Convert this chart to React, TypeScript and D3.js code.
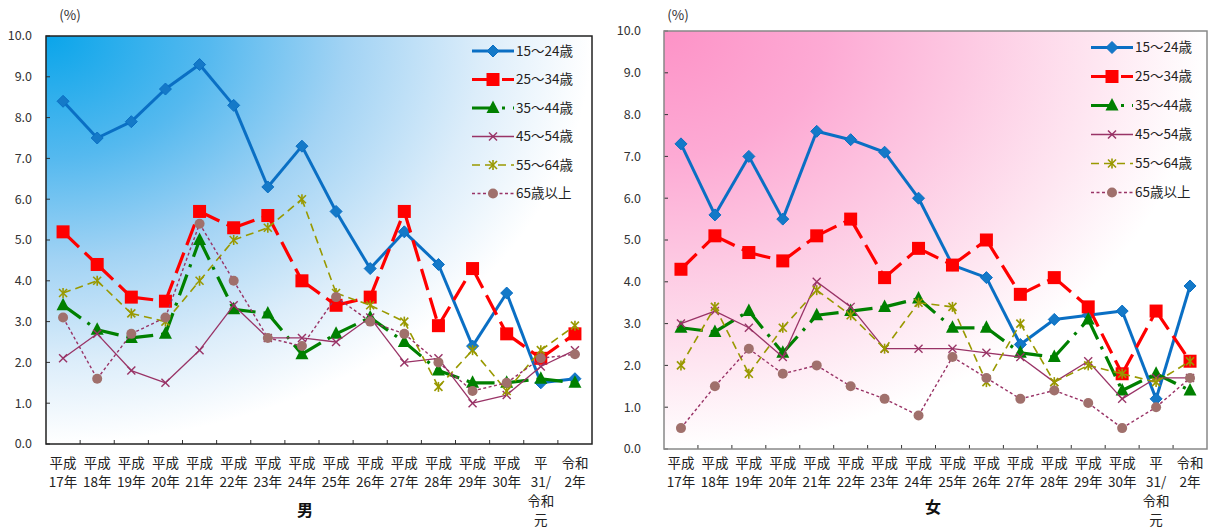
import React from "react";
import * as d3 from "d3";

const categories = [
  "平成17年", "平成18年", "平成19年", "平成20年", "平成21年", "平成22年", "平成23年", "平成24年",
  "平成25年", "平成26年", "平成27年", "平成28年", "平成29年", "平成30年", "平31/令和元", "令和2年",
];
const xLabelLines = [
  ["平成", "17年"], ["平成", "18年"], ["平成", "19年"], ["平成", "20年"], ["平成", "21年"],
  ["平成", "22年"], ["平成", "23年"], ["平成", "24年"], ["平成", "25年"], ["平成", "26年"],
  ["平成", "27年"], ["平成", "28年"], ["平成", "29年"], ["平成", "30年"], ["平", "31/", "令和", "元"],
  ["令和", "2年"],
];
const seriesNames = ["15～24歳", "25～34歳", "35～44歳", "45～54歳", "55～64歳", "65歳以上"];
const yTicks = [0, 1, 2, 3, 4, 5, 6, 7, 8, 9, 10];

// 男
const male15_24 = [8.4, 7.5, 7.9, 8.7, 9.3, 8.3, 6.3, 7.3, 5.7, 4.3, 5.2, 4.4, 2.4, 3.7, 1.5, 1.6];
const male25_34 = [5.2, 4.4, 3.6, 3.5, 5.7, 5.3, 5.6, 4.0, 3.4, 3.6, 5.7, 2.9, 4.3, 2.7, 2.1, 2.7];
const male35_44 = [3.4, 2.8, 2.6, 2.7, 5.0, 3.3, 3.2, 2.2, 2.7, 3.1, 2.5, 1.8, 1.5, 1.5, 1.6, 1.5];
const male45_54 = [2.1, 2.7, 1.8, 1.5, 2.3, 3.4, 2.6, 2.6, 2.5, 3.1, 2.0, 2.1, 1.0, 1.2, 1.9, 2.3];
const male55_64 = [3.7, 4.0, 3.2, 3.0, 4.0, 5.0, 5.3, 6.0, 3.7, 3.4, 3.0, 1.4, 2.3, 1.3, 2.3, 2.9];
const male65 = [3.1, 1.6, 2.7, 3.1, 5.4, 4.0, 2.6, 2.4, 3.6, 3.0, 2.7, 2.0, 1.3, 1.5, 2.1, 2.2];

// 女
const female15_24 = [7.3, 5.6, 7.0, 5.5, 7.6, 7.4, 7.1, 6.0, 4.4, 4.1, 2.5, 3.1, 3.2, 3.3, 1.2, 3.9];
const female25_34 = [4.3, 5.1, 4.7, 4.5, 5.1, 5.5, 4.1, 4.8, 4.4, 5.0, 3.7, 4.1, 3.4, 1.8, 3.3, 2.1];
const female35_44 = [2.9, 2.8, 3.3, 2.3, 3.2, 3.3, 3.4, 3.6, 2.9, 2.9, 2.3, 2.2, 3.1, 1.4, 1.8, 1.4];
const female45_54 = [3.0, 3.3, 2.9, 2.2, 4.0, 3.4, 2.4, 2.4, 2.4, 2.3, 2.2, 1.6, 2.1, 1.2, 1.7, 1.7];
const female55_64 = [2.0, 3.4, 1.8, 2.9, 3.8, 3.2, 2.4, 3.5, 3.4, 1.6, 3.0, 1.6, 2.0, 1.8, 1.6, 2.1];
const female65 = [0.5, 1.5, 2.4, 1.8, 2.0, 1.5, 1.2, 0.8, 2.2, 1.7, 1.2, 1.4, 1.1, 0.5, 1.0, 1.7];

const maleSeries = [male15_24, male25_34, male35_44, male45_54, male55_64, male65];
const femaleSeries = [female15_24, female25_34, female35_44, female45_54, female55_64, female65];

const styles = [
  { color: "#0a6fc4", markerFill: "#1479c8", width: 3, dash: null as string | null, marker: "diamond" },
  { color: "#ff0000", markerFill: "#ff0000", width: 3.2, dash: "22,8", marker: "square" },
  { color: "#008000", markerFill: "#008000", width: 3.2, dash: "22,8,3,8", marker: "triangle" },
  { color: "#993366", markerFill: "#993366", width: 1.3, dash: null, marker: "x" },
  { color: "#999900", markerFill: "#999900", width: 1.6, dash: "8,5", marker: "star" },
  { color: "#993366", markerFill: "#a0706c", width: 1.4, dash: "3,2.5", marker: "circle" },
];

const FONT = "'Noto Sans CJK JP', 'Noto Sans', sans-serif";

function Marker({ kind, x, y, color, fill }: { kind: string; x: number; y: number; color: string; fill: string }) {
  switch (kind) {
    case "diamond":
      return <path d={`M${x},${y - 6}L${x + 6},${y}L${x},${y + 6}L${x - 6},${y}Z`} fill={fill} stroke={color} strokeWidth={1} />;
    case "square":
      return <rect x={x - 6.5} y={y - 6.5} width={13} height={13} fill={fill} />;
    case "triangle":
      return <path d={`M${x},${y - 7.5}L${x + 6.5},${y + 5}L${x - 6.5},${y + 5}Z`} fill={fill} />;
    case "x":
      return (
        <g stroke={color} strokeWidth={1.4}>
          <line x1={x - 4} y1={y - 4} x2={x + 4} y2={y + 4} />
          <line x1={x - 4} y1={y + 4} x2={x + 4} y2={y - 4} />
        </g>
      );
    case "star":
      return (
        <g stroke={color} strokeWidth={1.6}>
          <line x1={x - 4} y1={y - 4} x2={x + 4} y2={y + 4} />
          <line x1={x - 4} y1={y + 4} x2={x + 4} y2={y - 4} />
          <line x1={x} y1={y - 5} x2={x} y2={y + 5} />
        </g>
      );
    default:
      return <circle cx={x} cy={y} r={5} fill={fill} />;
  }
}

type PanelCfg = {
  id: string;
  x0: number; x1: number; y0: number; y1: number;
  legendX: number; legendY: number; legendStep: number;
  yLabelX: number; pctX: number; titleX: number; titleY: number; title: string;
  border: string; stops: string[];
  data: number[][];
};

function Panel({ cfg }: { cfg: PanelCfg }) {
  const x = d3.scaleBand<string>().domain(categories).range([cfg.x0, cfg.x1]);
  const y = d3.scaleLinear().domain([0, 10]).range([cfg.y1, cfg.y0]);
  const cx = (i: number) => (x(categories[i]) as number) + x.bandwidth() / 2;
  const fmt = d3.format(".1f");
  const offsets = [0, 0.3, 0.55, 0.8, 1];
  return (
    <g>
      <defs>
        <radialGradient id={cfg.id} cx="0" cy="0" r="1" fx="0" fy="0">
          {cfg.stops.map((c, i) => (
            <stop key={i} offset={offsets[i]} stopColor={c} />
          ))}
        </radialGradient>
      </defs>
      <rect x={cfg.x0} y={cfg.y0} width={cfg.x1 - cfg.x0} height={cfg.y1 - cfg.y0} fill={`url(#${cfg.id})`} />
      {yTicks.map((t) => (
        <g key={t}>
          <line x1={cfg.x0} x2={cfg.x0 + 4} y1={y(t)} y2={y(t)} stroke="#333" strokeWidth={1} />
          <text x={cfg.yLabelX} y={y(t)} dy="0.35em" textAnchor="end" fontSize={12.5} fill="#333" fontFamily={FONT}>
            {fmt(t)}
          </text>
        </g>
      ))}
      {categories.slice(1).map((c) => (
        <line key={c} x1={x(c) as number} x2={x(c) as number} y1={cfg.y1} y2={cfg.y1 - 4} stroke="#333" strokeWidth={1} />
      ))}
      {xLabelLines.map((lines, i) => (
        <text key={i} x={cx(i)} textAnchor="middle" fontSize={13.5} fill="#222" fontFamily={FONT}>
          {lines.map((l, j) => (
            <tspan key={j} x={cx(i)} y={463 + j * 19} dy="0.35em">
              {l}
            </tspan>
          ))}
        </text>
      ))}
      <text x={cfg.pctX} y={15} dy="0.35em" textAnchor="middle" fontSize={13.5} fill="#333" fontFamily={FONT}>
        (%)
      </text>
      <text x={cfg.titleX} y={cfg.titleY} dy="0.35em" textAnchor="middle" fontSize={16} fontWeight="bold" fill="#111" fontFamily={FONT}>
        {cfg.title}
      </text>
      {cfg.data.map((vals, s) => {
        const st = styles[s];
        return (
          <g key={s}>
            {vals.slice(1).map((v, i) => {
              const p = d3.line<number>().x((_, k) => cx(i + k)).y((d) => y(d))([vals[i], v]) as string;
              return (
                <path key={i} d={p} fill="none" stroke={st.color} strokeWidth={st.width}
                  strokeDasharray={st.dash ?? undefined} strokeLinejoin="round" />
              );
            })}
            {vals.map((v, i) => (
              <Marker key={i} kind={st.marker} x={cx(i)} y={y(v)} color={st.color} fill={st.markerFill} />
            ))}
          </g>
        );
      })}
      <rect x={cfg.x0} y={cfg.y0} width={cfg.x1 - cfg.x0} height={cfg.y1 - cfg.y0} fill="none" stroke={cfg.border} strokeWidth={1.5} />
      {seriesNames.map((n, s) => {
        const st = styles[s];
        const ly = cfg.legendY + s * cfg.legendStep;
        return (
          <g key={n}>
            <line x1={cfg.legendX} x2={cfg.legendX + 42} y1={ly} y2={ly} stroke={st.color} strokeWidth={st.width}
              strokeDasharray={st.dash ?? undefined} />
            <Marker kind={st.marker} x={cfg.legendX + 21} y={ly} color={st.color} fill={st.markerFill} />
            <text x={cfg.legendX + 44} y={ly} dy="0.35em" fontSize={13.5} fill="#222" fontFamily={FONT}>
              {n}
            </text>
          </g>
        );
      })}
    </g>
  );
}

const leftCfg: PanelCfg = {
  id: "gradMale", x0: 46, x1: 592, y0: 36, y1: 444,
  legendX: 472, legendY: 51, legendStep: 28.5,
  yLabelX: 32, pctX: 70, titleX: 305, titleY: 510, title: "男",
  border: "#222", stops: ["#0aa5ea", "#55b9ef", "#a2d3f4", "#dcedfa", "#ffffff"],
  data: maleSeries,
};
const rightCfg: PanelCfg = {
  id: "gradFemale", x0: 664, x1: 1207, y0: 31, y1: 449,
  legendX: 1091, legendY: 47.5, legendStep: 29,
  yLabelX: 641, pctX: 678, titleX: 933, titleY: 507, title: "女",
  border: "#888", stops: ["#fd93c7", "#fdaad4", "#fdc8e2", "#fee6f1", "#ffffff"],
  data: femaleSeries,
};

export default function App() {
  return (
    <div style={{ position: "absolute", left: 0, top: 0 }}>
      <svg width={1210} height={530} style={{ display: "block", background: "#fff" }}>
        <Panel cfg={leftCfg} />
        <Panel cfg={rightCfg} />
      </svg>
    </div>
  );
}
